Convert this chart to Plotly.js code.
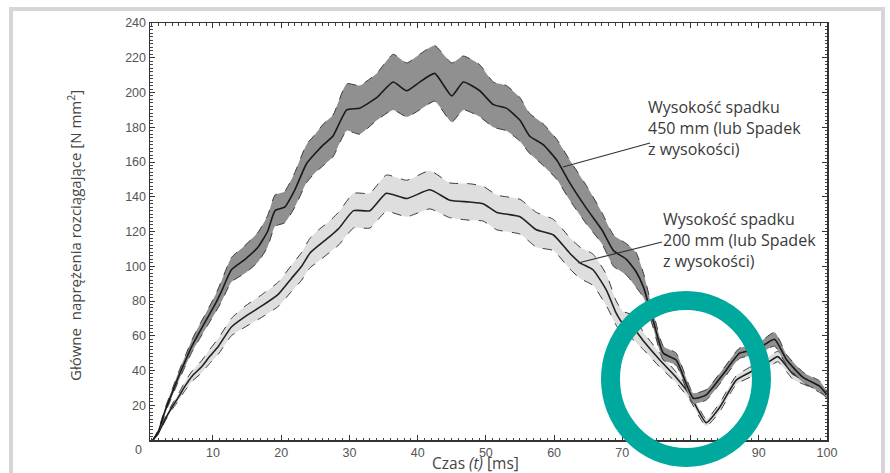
<!DOCTYPE html>
<html>
<head>
<meta charset="utf-8">
<script src="https://cdn.plot.ly/plotly-3.0.1.min.js"></script>
<style>html,body{margin:0;padding:0;background:#fff;}#chart{width:890px;height:473px;}</style>
</head>
<body>
<div id="chart"></div>
<script>
// 450 mm drop height band
const x450 = [1.2,2,3,4,4.9,6,6.9,8,9.3,10.3,11.3,12.7,14.7,16.6,18,19.1,20.5,22,23.7,25,26.2,27.6,29.6,31.5,34,36.4,38.4,40.3,42.5,45,46.7,49.1,51.1,53,55,56.4,58.4,60.4,62.3,64.8,67,68.7,70.6,72,73.1,74.5,76,77.9,80.4,82.3,84.8,87.2,89.7,92.3,94.1,96.5,98.9,100];
const mid450 = [0,5,17,27,36,46,54,62,71,78,86,98,104,111,120,132,134,144,159,165,170,175,190,191,197,206,201,206,211,198,206,201,193,191,184,175,170,161,148,133,121,109,104,97,88,69,50,46,24,26,38,50,52,58,46,36,31,26];
const up450 = [0,6,18.5,29,38.5,49,57.5,66,75.5,83,92,105,112,119.5,129,141,143,154,170,176,182,187,205,204,211,222,217,222,227,217,221,216,206,204,197,188,182,173,161,146,131,118,113,108,96,74,54,50,27,29,41,53,55,62,49,39,34,28];
const lo450 = [0,4,15.5,25,33.5,43,50.5,58,66.5,73,80,91,96,102.5,111,123,125,134,148,154,158,163,178,176,184,190,186,190,195,183,190,186,180,178,172,165,158,150,138,124,113,100,95,88,82,65,46,43,21,23,35,47,49,54,43,33,28,24];

// 200 mm drop height band
const x200 = [1.2,2,3,4,5,5.9,7,8.3,9.5,10.8,12.7,14.7,17.1,19.6,21.5,23,24.2,25.5,27.1,28.5,30.6,33,35.4,38.4,41.8,44.7,47.6,49.6,51.6,55,57.4,59.9,62.3,63.8,65.7,67.7,69.1,70.1,71.5,73.1,75.5,77.9,79.9,82.3,84.3,86.7,89.2,91.1,92.8,95,97.5,100];
const mid200 = [0,4,12,19,25,31,37,42,48,54,65,71,77,84,93,100,107.5,112,117,122,132,132,142,139,144,138,137,136,131,128.5,121,118,107.5,102,98,86,73,67,65,57,46,36,26,10,19,34.5,40,44,48,38,33,27];
const up200 = [0,4.5,13,20.5,27,33.5,40,45.5,52,58.5,70,77,83.5,91,100.5,108,116,121,126,131.5,142,142,152.5,149.5,155,148,147.5,146,141,138.5,131,127,116.5,111,107,95,80,74,72,62,50,39,29,12,21.5,37,43,47,51,41,35.5,29];
const lo200 = [0,3.5,11,17.5,23,28.5,34,38.5,44,49.5,60,65,70.5,77,85.5,92,99,103,108,112.5,122,122,131.5,128.5,133,128,126.5,126,121,118.5,111,109,98.5,93,89,77,66,60,58,52,42,33,23,8,16.5,32,37,41,45,35,30.5,25];

const xTicks = [10,20,30,40,50,60,70,80,90,100];
const yTicks = [20,40,60,80,100,120,140,160,180,200,220,240];

const label450 = 'Wysokość spadku<br>450 mm (lub Spadek<br>z wysokości)';
const label200 = 'Wysokość spadku<br>200 mm (lub Spadek<br>z wysokości)';
const xTitle = 'Czas <i>(t)</i> [ms]';
const yTitle = 'Główne  naprężenia rozciągające [N mm<sup>2</sup>]';

const dashLine = {color:'#3a3a3a', width:1, dash:'dash', shape:'spline', smoothing:0.5};
const traces = [
  {x:x200, y:lo200, mode:'lines', line:dashLine, showlegend:false},
  {x:x200, y:up200, mode:'lines', line:dashLine, fill:'tonexty', fillcolor:'#dedede', showlegend:false},
  {x:x200, y:mid200, mode:'lines', line:{color:'#222', width:1.6, shape:'spline', smoothing:0.5}, showlegend:false},
  {x:x450, y:lo450, mode:'lines', line:dashLine, showlegend:false},
  {x:x450, y:up450, mode:'lines', line:dashLine, fill:'tonexty', fillcolor:'#909090', showlegend:false},
  {x:x450, y:mid450, mode:'lines', line:{color:'#1a1a1a', width:1.6, shape:'spline', smoothing:0.5}, showlegend:false}
];

const tickFont = {family:'Liberation Sans, Arial, sans-serif', size:12.5, color:'#555'};
const txtFont = {family:'Open Sans, sans-serif', size:16, color:'#3a3a3a'};

const layout = {
  width:890, height:473,
  margin:{l:150, r:63, t:23, b:33, pad:0},
  paper_bgcolor:'#fff', plot_bgcolor:'#fff',
  showlegend:false,
  xaxis:{range:[0.77,100], tickvals:xTicks, ticks:'inside', ticklen:5, tickwidth:1, tickcolor:'#333',
         showline:true, linecolor:'#333', linewidth:1.5, mirror:'allticks', showgrid:false, zeroline:false,
         tickfont:tickFont, minor:{dtick:1, ticks:'inside', ticklen:2.5, tickcolor:'#444', showgrid:false}},
  yaxis:{range:[0,240], tickvals:yTicks, ticks:'inside', ticklen:5, tickwidth:1, tickcolor:'#333',
         showline:true, linecolor:'#333', linewidth:1.5, mirror:'allticks', showgrid:false, zeroline:false,
         tickfont:tickFont, minor:{dtick:2, ticks:'inside', ticklen:2.5, tickcolor:'#444', showgrid:false}},
  annotations:[
    {xref:'paper', yref:'paper', x:0.7326, y:0.748, xanchor:'left', yanchor:'middle', align:'left',
     text:label450, showarrow:false, font:txtFont},
    {xref:'paper', yref:'paper', x:0.7548, y:0.4808, xanchor:'left', yanchor:'middle', align:'left',
     text:label200, showarrow:false, font:txtFont},
    {xref:'paper', yref:'paper', x:(475-150)/677, y:(440-463)/417, xanchor:'center', yanchor:'middle',
     text:xTitle, showarrow:false, font:{family:'Open Sans, sans-serif', size:15.5, color:'#444'}},
    {xref:'paper', yref:'paper', x:(75-150)/677, y:(440-236)/417, xanchor:'center', yanchor:'middle',
     text:yTitle, textangle:-90, showarrow:false, font:{family:'Open Sans, sans-serif', size:15, color:'#444'}},
    {xref:'paper', yref:'paper', x:(138-150)/677, y:(440-450)/417, xanchor:'center', yanchor:'middle',
     text:'0', showarrow:false, font:tickFont}
  ],
  shapes:[
    {type:'line', xref:'paper', yref:'paper', x0:0.610, y0:0.6547, x1:0.7386, y1:0.7122, line:{color:'#333', width:1.2}},
    {type:'line', xref:'paper', yref:'paper', x0:0.6322, y0:0.4245, x1:0.7563, y1:0.4748, line:{color:'#333', width:1.2}},
    {type:'circle', xref:'paper', yref:'paper', x0:0.6802, x1:0.9032, y0:-0.042, y1:0.3345,
     line:{color:'#00a99d', width:19}, layer:'above'},
    {type:'rect', xref:'paper', yref:'paper', x0:(11-150)/677, x1:(883-150)/677, y0:-0.2, y1:(440-9)/417,
     line:{color:'#d6d6d6', width:4}, layer:'below'}
  ]
};

Plotly.newPlot('chart', traces, layout, {staticPlot:true, displayModeBar:false});
</script>
</body>
</html>
